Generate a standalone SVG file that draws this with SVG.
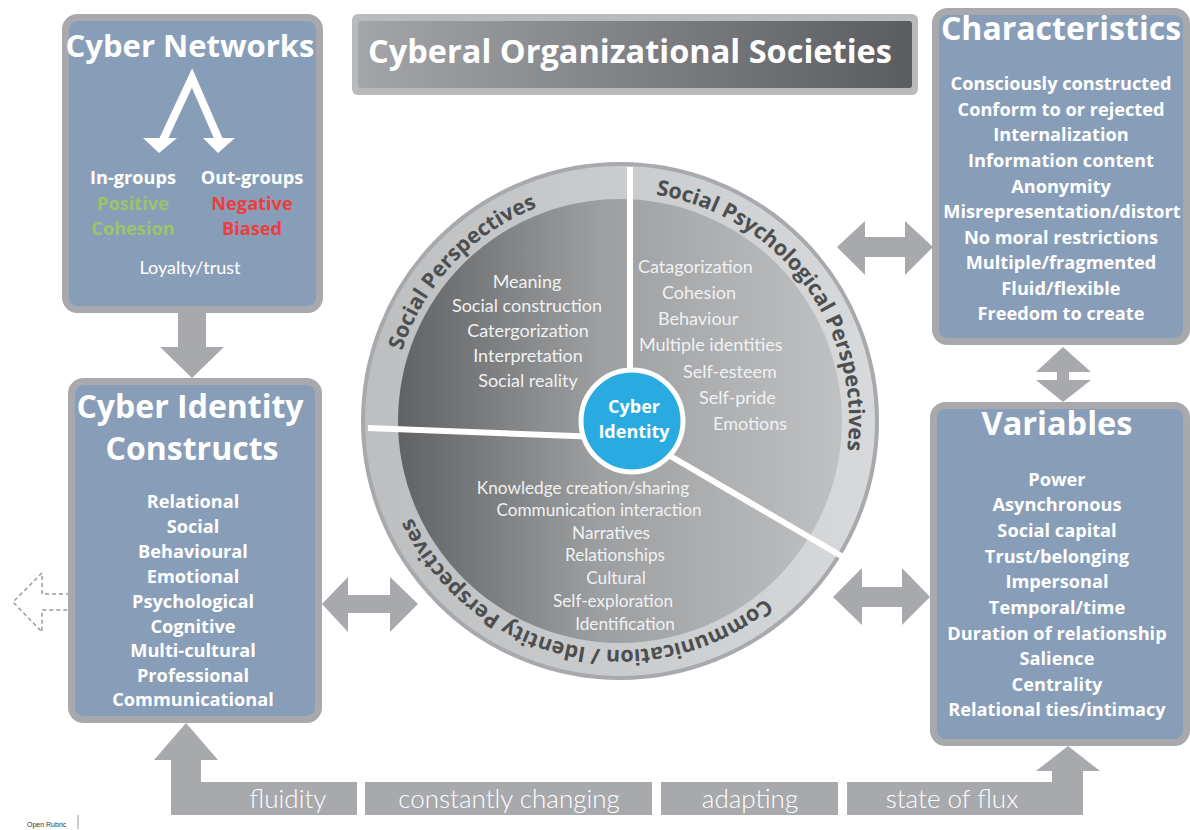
<svg xmlns="http://www.w3.org/2000/svg" xmlns:xlink="http://www.w3.org/1999/xlink" width="1190" height="830" viewBox="0 0 1190 830">
<defs>
<linearGradient id="gTitle" x1="0" y1="0" x2="1" y2="0">
<stop offset="0" stop-color="#a3a5a8"/><stop offset="1" stop-color="#5b5c5f"/>
</linearGradient>
<linearGradient id="gDisk" x1="0" y1="0" x2="1" y2="0">
<stop offset="0" stop-color="#616264"/><stop offset="0.45" stop-color="#9c9ea0"/><stop offset="1" stop-color="#bfc1c3"/>
</linearGradient>
<linearGradient id="gRing" x1="0" y1="0" x2="1" y2="0">
<stop offset="0" stop-color="#bcbec0"/><stop offset="1" stop-color="#d8d9da"/>
</linearGradient>
<path id="ringPath" d="M 391,421 A 229 229 0 1 1 849,421 A 229 229 0 1 1 391,421"/>
<style>
.box{fill:#889eb8;stroke:#a7a9ac;stroke-width:7}
.t{font-family:"Open Sans","Liberation Sans",sans-serif;text-anchor:middle}
.title{font-weight:bold;fill:#ffffff}
.item{font-weight:bold;fill:#ffffff;font-size:18.2px}
.sec{font-family:Lato,"Liberation Sans",sans-serif;font-weight:normal;fill:#f1f1f2;font-size:18px}
.secB{font-family:Lato,"Liberation Sans",sans-serif;font-weight:normal;fill:#f1f1f2;font-size:17.2px;text-anchor:middle}
.secS{font-family:Lato,"Liberation Sans",sans-serif;font-weight:normal;fill:#f1f1f2;font-size:18px}
.ring{font-family:"Open Sans","Liberation Sans",sans-serif;font-weight:bold;fill:#4d4e50;font-size:21.5px;text-anchor:middle}
.arr{fill:#a7a9ac}
.flow{font-family:Lato,"Liberation Sans",sans-serif;font-weight:300;fill:#ffffff;font-size:26px;text-anchor:middle}
</style>
</defs>
<rect width="1190" height="830" fill="#ffffff"/>

<g id="connectors">
<polygon class="arr" points="178,313 206,313 206,347 224,347 192,378 160,347 178,347"/>
<polygon class="arr" points="1063,347 1091,372 1069,372 1069,380 1091,380 1063,402 1036,380 1057,380 1057,372 1036,372"/>
<polygon class="arr" points="837,247 865,221 865,237 905,237 905,221 933,247 905,275 905,257 865,257 865,275"/>
<polygon class="arr" points="833,597 862,568 862,587 902,587 902,568 930,597 902,625 902,607 862,607 862,625"/>
<polygon class="arr" points="322,604 348,577 348,595 390,595 390,577 418,604 390,632 390,613 348,613 348,632"/>
<polygon points="70,594 42,594 42,573 13,602 42,632 42,610 70,610" fill="none" stroke="#9a9a9a" stroke-width="1.5" stroke-dasharray="4 3"/>
<polygon class="arr" points="171,815 171,760 154,760 186,723 218,760 201,760 201,782 357,782 357,815"/>
<rect class="arr" x="365" y="782" width="287" height="33"/>
<rect class="arr" x="661" y="782" width="177" height="33"/>
<polygon class="arr" points="847,782 1052,782 1052,771 1036,771 1068,746 1100,771 1083,771 1083,815 847,815"/>
<text class="flow" x="288" y="808">fluidity</text>
<text class="flow" x="509" y="808">constantly changing</text>
<text class="flow" x="750" y="808">adapting</text>
<text class="flow" x="952" y="808">state of flux</text>
</g>

<g id="title">
<rect x="352" y="14" width="566" height="81" rx="6" fill="#b8babc"/>
<rect x="358" y="21" width="554" height="67" rx="3" fill="url(#gTitle)"/>
<text class="t title" x="630" y="63" font-size="32.5">Cyberal Organizational Societies</text>
</g>

<g id="cyber-networks">
<rect class="box" x="65.5" y="17.5" width="254" height="292" rx="12"/>
<text class="t title" x="190" y="57" font-size="31">Cyber Networks</text>
<polyline points="163,140 192,78 219,140" fill="none" stroke="#ffffff" stroke-width="8" stroke-linejoin="miter"/>
<polygon points="143,138 177,138 159,153" fill="#ffffff"/>
<polygon points="203,138 235,138 218,153" fill="#ffffff"/>
<text class="t item" x="133" y="184" font-size="19">In-groups</text>
<text class="t item" x="252" y="184" font-size="19">Out-groups</text>
<text class="t item" x="133" y="210" font-size="19" style="fill:#9cc36b">Positive</text>
<text class="t item" x="133" y="235" font-size="19" style="fill:#9cc36b">Cohesion</text>
<text class="t item" x="252" y="210" font-size="19" style="fill:#e8403c">Negative</text>
<text class="t item" x="252" y="235" font-size="19" style="fill:#e8403c">Biased</text>
<text class="sec" x="190" y="274" text-anchor="middle" style="fill:#ffffff">Loyalty/trust</text>
</g>

<g id="cyber-identity-constructs">
<rect class="box" x="71.5" y="381.5" width="247" height="338" rx="12"/>
<text class="t title" x="190" y="418" font-size="32">Cyber Identity</text>
<text class="t title" x="192" y="460" font-size="32">Constructs</text>
<text class="t item" x="193" y="508">Relational</text>
<text class="t item" x="193" y="533">Social</text>
<text class="t item" x="193" y="558">Behavioural</text>
<text class="t item" x="193" y="583">Emotional</text>
<text class="t item" x="193" y="608">Psychological</text>
<text class="t item" x="193" y="633">Cognitive</text>
<text class="t item" x="193" y="657">Multi-cultural</text>
<text class="t item" x="193" y="682">Professional</text>
<text class="t item" x="193" y="706">Communicational</text>
</g>

<g id="characteristics">
<rect class="box" x="935.5" y="11.5" width="251" height="330" rx="12"/>
<text class="t title" x="1061" y="40" font-size="32">Characteristics</text>
<text class="t item" x="1061" y="90">Consciously constructed</text>
<text class="t item" x="1061" y="116">Conform to or rejected</text>
<text class="t item" x="1061" y="141">Internalization</text>
<text class="t item" x="1061" y="167">Information content</text>
<text class="t item" x="1061" y="193">Anonymity</text>
<text class="t item" x="1062" y="218">Misrepresentation/distort</text>
<text class="t item" x="1061" y="244">No moral restrictions</text>
<text class="t item" x="1061" y="269">Multiple/fragmented</text>
<text class="t item" x="1061" y="295">Fluid/flexible</text>
<text class="t item" x="1061" y="320">Freedom to create</text>
</g>

<g id="variables">
<rect class="box" x="933.5" y="405.5" width="253" height="337" rx="12"/>
<text class="t title" x="1057" y="435" font-size="32.5">Variables</text>
<text class="t item" x="1057" y="486">Power</text>
<text class="t item" x="1057" y="511">Asynchronous</text>
<text class="t item" x="1057" y="537">Social capital</text>
<text class="t item" x="1057" y="563">Trust/belonging</text>
<text class="t item" x="1057" y="588">Impersonal</text>
<text class="t item" x="1057" y="614">Temporal/time</text>
<text class="t item" x="1057" y="640">Duration of relationship</text>
<text class="t item" x="1057" y="665">Salience</text>
<text class="t item" x="1057" y="691">Centrality</text>
<text class="t item" x="1057" y="716">Relational ties/intimacy</text>
</g>

<g id="identity-wheel">
<circle cx="620" cy="421" r="257" fill="url(#gRing)" stroke="#a7a9ac" stroke-width="4"/>
<circle cx="620" cy="421" r="222" fill="url(#gDisk)"/>
<line x1="630" y1="167" x2="630" y2="400" stroke="#ffffff" stroke-width="6"/>
<line x1="368" y1="428" x2="600" y2="437" stroke="#ffffff" stroke-width="6"/>
<line x1="660" y1="450" x2="843" y2="557" stroke="#ffffff" stroke-width="6"/>
<text class="ring"><textPath xlink:href="#ringPath" href="#ringPath" startOffset="173">Social Perspectives</textPath></text>
<text class="ring"><textPath xlink:href="#ringPath" href="#ringPath" startOffset="572">Social Psychological Perspectives</textPath></text>
<text class="ring"><textPath xlink:href="#ringPath" href="#ringPath" startOffset="1130">Communication / Identity Perspectives</textPath></text>
<text class="sec" text-anchor="middle" x="527" y="288">Meaning</text>
<text class="sec" text-anchor="middle" x="527" y="312">Social construction</text>
<text class="sec" text-anchor="middle" x="528" y="337">Catergorization</text>
<text class="sec" text-anchor="middle" x="528" y="362">Interpretation</text>
<text class="sec" text-anchor="middle" x="528" y="387">Social reality</text>
<text class="secS" x="638" y="273">Catagorization</text>
<text class="secS" x="662" y="299">Cohesion</text>
<text class="secS" x="658" y="325">Behaviour</text>
<text class="secS" x="639" y="351">Multiple identities</text>
<text class="secS" x="683" y="378">Self-esteem</text>
<text class="secS" x="699" y="404">Self-pride</text>
<text class="secS" x="713" y="430">Emotions</text>
<text class="secB" x="583" y="494">Knowledge creation/sharing</text>
<text class="secB" x="599" y="516">Communication interaction</text>
<text class="secB" x="611" y="539">Narratives</text>
<text class="secB" x="615" y="561">Relationships</text>
<text class="secB" x="616" y="584">Cultural</text>
<text class="secB" x="613" y="607">Self-exploration</text>
<text class="secB" x="625" y="630">Identification</text>
</g>

<g id="cyber-identity">
<circle cx="632" cy="421" r="51" fill="#29abe2" stroke="#ffffff" stroke-width="5"/>
<text class="t title" x="634" y="413" font-size="18">Cyber</text>
<text class="t title" x="634" y="438" font-size="18">Identity</text>
</g>

<g id="footer">
<text x="27" y="827" font-family="Liberation Sans, sans-serif" font-size="7" fill="#333333">Open Rubric</text>
<line x1="78" y1="815" x2="78" y2="829" stroke="#999999" stroke-width="1"/>
</g>
</svg>
